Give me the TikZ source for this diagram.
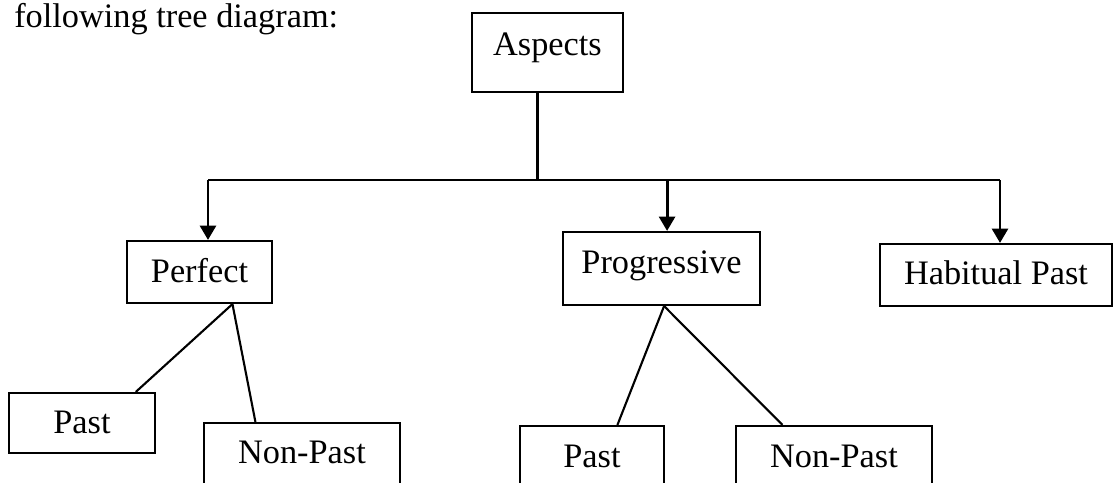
\documentclass[tikz,border=0pt]{standalone}
\usepackage{fontspec}
\setmainfont{Liberation Serif}
\usetikzlibrary{arrows.meta,calc}

\begin{document}
\begin{tikzpicture}[x=0.025cm, y=-0.025cm,
		every node/.style={font=\fontsize{24.4}{29}\selectfont},
		box/.style={draw, line width=1.5pt, inner sep=0pt, anchor=base},
		bar/.style={line width=2.1pt},
		arr/.style={line width=2.1pt, -{Triangle[length=0.36cm, width=0.4cm]}},
		edge/.style={line width=1.5pt}]
			%%%%% START %%%%%
			
			\useasboundingbox (0, 0) rectangle (1113, 482);
			\clip (0, 0) rectangle (1113, 482);
			
			\node[anchor=base west, inner sep=0pt] (title) at (14, 27) {following tree diagram:};
			
			\node[box, minimum width=3.775cm, text height=1.05cm, text depth=0.925cm] (asp) at (547.5, 55) {Aspects};
			
			\node[box, minimum width=3.625cm, text height=1.025cm, text depth=0.525cm] (perf) at (199.5, 282) {Perfect};
			\node[box, minimum width=4.925cm, text height=1.025cm, text depth=0.8cm] (prog) at (661.5, 273) {Progressive};
			\node[box, minimum width=5.8cm, text height=1.0cm, text depth=0.55cm] (hab) at (996, 284) {Habitual Past};
			
			\node[box, minimum width=3.65cm, text height=1.0cm, text depth=0.5cm] (perfpast) at (82, 433) {Past};
			\node[box, minimum width=4.9cm, text height=1.0cm, text depth=1.2cm] (perfnonpast) at (302, 463) {Non-Past};
			\node[box, minimum width=3.6cm, text height=1.025cm, text depth=1.2cm] (progpast) at (592, 467) {Past};
			\node[box, minimum width=4.9cm, text height=1.025cm, text depth=1.2cm] (prognonpast) at (834, 467) {Non-Past};
			
			% the bar under Aspects
			\coordinate (barL) at (208, 180);
			\coordinate (barR) at (1000, 180);
			\coordinate (stem) at ($(asp.south west)!0.437!(asp.south east)$);
			\coordinate (progin) at ($(prog.north west)!0.528!(prog.north east)$);
			
			\draw[bar] (stem) -- (stem |- barL);
			\draw[bar] (barL) -- (barR);
			
			\draw[arr] (barL) -- (barL |- perf.north);
			\draw[arr] (progin |- barL) -- (progin);
			\draw[arr] (barR) -- (barR |- hab.north);
			
			% branches
			\draw[edge] ($(perf.south west)!0.724!(perf.south east)$) -- ($(perfpast.north west)!0.863!(perfpast.north east)$);
			\draw[edge] ($(perf.south west)!0.724!(perf.south east)$) -- ($(perfnonpast.north west)!0.265!(perfnonpast.north east)$);
			\draw[edge] ($(prog.south west)!0.513!(prog.south east)$) -- ($(progpast.north west)!0.674!(progpast.north east)$);
			\draw[edge] ($(prog.south west)!0.513!(prog.south east)$) -- ($(prognonpast.north west)!0.24!(prognonpast.north east)$);
			
			%%%%% END %%%%%
		\end{tikzpicture}
\end{document}
